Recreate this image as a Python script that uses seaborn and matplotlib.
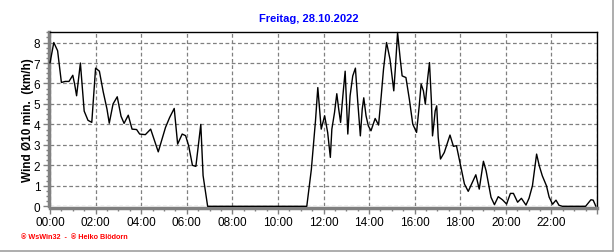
import numpy as np
import pandas as pd
import matplotlib
matplotlib.use("Agg")
import matplotlib.pyplot as plt
import seaborn as sns
from matplotlib.ticker import MultipleLocator, FuncFormatter

# time in minutes since midnight, wind (km/h)
minutes = [0, 10, 20, 30, 40, 50, 60, 65, 70, 80, 90, 100, 110, 120, 130, 140, 150,
           156, 166, 177, 187, 195, 206, 216, 228, 236, 251, 265, 285, 295, 304, 315,
           327, 336, 348, 357, 365, 375, 384, 397, 403, 415, 676, 688, 699, 705, 714,
           723, 731, 738, 742, 749, 755, 760, 765, 771, 777, 784, 790, 797, 804, 810,
           817, 822, 826, 832, 838, 845, 856, 865, 872, 878, 886, 895, 905, 909, 915,
           922, 927, 937, 946, 955, 965, 972, 977, 983, 988, 994, 999, 1004, 1007,
           1010, 1014, 1018, 1022, 1028, 1038, 1053, 1062, 1070, 1079, 1091, 1101,
           1110, 1121, 1130, 1141, 1148, 1161, 1170, 1180, 1191, 1202, 1212, 1220,
           1231, 1241, 1253, 1261, 1270, 1281, 1288, 1296, 1307, 1314, 1323, 1332,
           1340, 1349, 1410, 1424, 1430, 1437]
wind = [7.0, 8.0, 7.6, 6.05, 6.1, 6.1, 6.4, 5.95, 5.4, 7.0, 4.65, 4.2, 4.1, 6.75, 6.6,
        5.6, 4.75, 4.06, 5.0, 5.35, 4.4, 4.05, 4.45, 3.77, 3.75, 3.53, 3.5, 3.77, 2.66,
        3.28, 3.85, 4.34, 4.78, 3.04, 3.53, 3.45, 2.96, 2.0, 1.95, 4.0, 1.5, 0.0, 0.0,
        1.8, 4.2, 5.8, 3.77, 4.42, 3.6, 2.39, 3.77, 4.58, 5.5, 4.75, 4.1, 5.4, 6.6,
        3.53, 5.4, 6.37, 6.75, 5.15, 3.44, 4.75, 5.3, 4.42, 3.93, 3.69, 4.29, 3.97,
        5.4, 6.7, 8.0, 7.19, 5.64, 6.7, 8.49, 7.19, 6.37, 6.29, 5.23, 4.01, 3.61,
        4.91, 5.97, 5.64, 4.99, 6.21, 7.02, 5.15, 3.44, 3.93, 4.66, 4.91, 3.37, 2.31,
        2.63, 3.48, 2.93, 2.96, 2.15, 1.09, 0.73, 1.09, 1.54, 0.84, 2.2, 1.74, 0.44,
        0.08, 0.47, 0.32, 0.11, 0.63, 0.63, 0.2, 0.39, 0.06, 0.39, 1.0, 2.55, 1.98,
        1.49, 1.0, 0.45, 0.1, 0.3, 0.05, 0.0, 0.0, 0.32, 0.3, 0.0]

title = "Freitag, 28.10.2022"
ylabel = "Wind \u00d810 min.  (km/h)"
footer = "\u00ae WsWin32  -  \u00ae Heiko Bl\u00f6dorn"

df = pd.DataFrame({"minutes": minutes, "wind": wind})

sns.set_theme(style="white")
plt.rcParams["font.family"] = ["Liberation Sans", "DejaVu Sans"]

fig = plt.figure(figsize=(6.16, 2.53), dpi=100)
fig.patch.set_facecolor("white")
ax = fig.add_axes([50 / 616, 45.7 / 253, 547 / 616, 174 / 253])

sns.lineplot(data=df, x="minutes", y="wind", ax=ax, color="black", linewidth=1.0,
             estimator=None, sort=False, zorder=4)
for ln in ax.get_lines():
    ln.set_clip_on(False)

ax.set_xlim(0, 1440)
ax.set_ylim(0, 8.5)
ax.xaxis.set_major_locator(MultipleLocator(120))
ax.xaxis.set_minor_locator(MultipleLocator(30))
ax.xaxis.set_major_formatter(FuncFormatter(lambda v, p: "%02d:00" % int(v // 60) if v < 1440 else ""))
ax.yaxis.set_major_locator(MultipleLocator(1))
ax.yaxis.set_minor_locator(MultipleLocator(0.25))
ax.yaxis.set_major_formatter(FuncFormatter(lambda v, p: "%d" % v))

ax.grid(True, which="major", color="#808080", linestyle=(0, (3, 2)), linewidth=0.9)
ax.set_axisbelow(True)

for s in ["top", "right"]:
    ax.spines[s].set_color("black")
    ax.spines[s].set_linewidth(1.0)
for s in ["left", "bottom"]:
    ax.spines[s].set_color("#808080")
    ax.spines[s].set_linewidth(2.5)
ax.spines["bottom"].set_position(("outward", 1))
ax.spines["left"].set_position(("outward", 1))

ax.tick_params(axis="both", which="major", direction="out", length=4, width=1,
               color="#808080", labelsize=8.5, labelcolor="black", pad=2)
ax.tick_params(axis="both", which="minor", direction="out", length=2.5, width=1,
               color="#808080")
ax.tick_params(axis="x", which="both", bottom=True)
ax.tick_params(axis="y", which="both", left=True)

ax.set_xlabel("")
ax.set_ylabel(ylabel, fontsize=8.5, fontweight="bold", color="black", labelpad=0)

fig.text(309 / 616, 1 - 18.5 / 253, title, ha="center", va="center", color="#0000FF",
         fontsize=8, fontweight="bold")
fig.text(21 / 616, 1 - 238 / 253, footer, ha="left", va="center", color="#FF0000",
         fontsize=5.2, fontweight="bold")

# outer gray frame lines (bottom and right)
fig.add_artist(plt.Line2D([0, 613 / 616], [1.5 / 253, 1.5 / 253], color="#a0a0a0", linewidth=1.2))
fig.add_artist(plt.Line2D([613 / 616, 613 / 616], [1.5 / 253, 1], color="#a0a0a0", linewidth=1.2))

fig.savefig("out.png", dpi=100)
